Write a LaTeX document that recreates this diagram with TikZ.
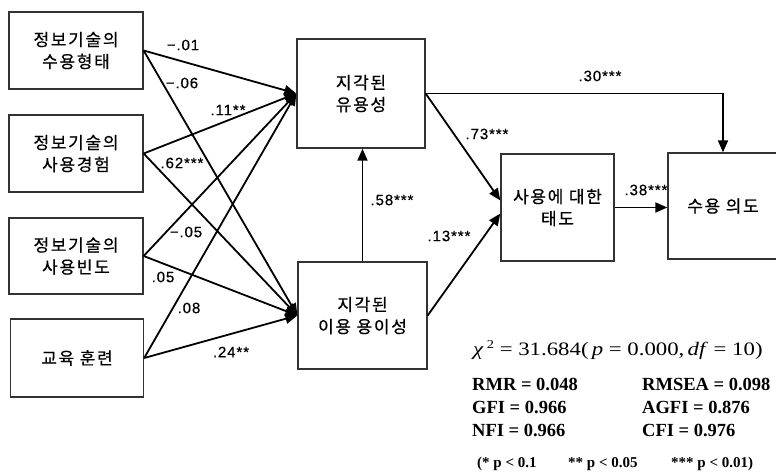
\documentclass[tikz,border=0pt]{standalone}
\usepackage{fontspec}
\setmainfont{Liberation Serif}
\newfontfamily\kr[LetterSpace=10,FakeBold=0.6]{Noto Sans CJK KR}
\newfontfamily\lab[LetterSpace=6,FakeBold=0.5]{Liberation Sans}
\newfontfamily\widese[FakeStretch=1.2]{Liberation Serif}
\usetikzlibrary{arrows.meta}
\begin{document}
\begin{tikzpicture}[x=1pt,y=-1pt,
  box/.style={draw=black!80, line width=1.3pt, fill=white, align=center,
    font=\kr\fontsize{17}{22}\selectfont, inner sep=0pt},
  pth/.style={line width=1.8pt, -{Triangle[length=12pt,width=10pt]}},
  coef/.style={font=\lab\fontsize{15}{15}\selectfont, inner sep=0pt},
  stat/.style={font=\bfseries\fontsize{18.5}{18.5}\selectfont, anchor=base west, inner sep=0pt},
  note/.style={font=\bfseries\fontsize{15}{15}\selectfont, anchor=base west, inner sep=0pt}]
\useasboundingbox (0,0) rectangle (776,472);
\fill[white] (0,0) rectangle (776,472);
% boxes
\node[box, minimum width=134pt, minimum height=77pt] (a1) at (76,50.5) {정보기술의\\수용형태};
\node[box, minimum width=134pt, minimum height=77pt] (a2) at (76,153.5) {정보기술의\\사용경험};
\node[box, minimum width=134pt, minimum height=76pt] (a3) at (76,256) {정보기술의\\사용빈도};
\node[box, minimum width=133pt, minimum height=78pt] (a4) at (77,358) {교육 훈련};
\node[box, minimum width=128pt, minimum height=109pt] (pu) at (361,93.5) {지각된\\유용성};
\node[box, minimum width=129pt, minimum height=107pt] (peou) at (362.5,315.5) {지각된\\이용 용이성};
\node[box, minimum width=113pt, minimum height=107pt] (att) at (557.5,207.5) {사용에 대한\\태도};
\node[box, minimum width=110pt, minimum height=106pt] (int) at (723,206) {수용 의도};
% paths from exogenous variables
\draw[pth] (a1.east) -- (pu.west);
\draw[pth] (a1.east) -- (peou.west);
\draw[pth] (a2.east) -- (pu.west);
\draw[pth] (a2.east) -- (peou.west);
\draw[pth] (a3.east) -- (pu.west);
\draw[pth] (a3.east) -- (peou.west);
\draw[pth] (a4.east) -- (pu.west);
\draw[pth] (a4.east) -- (peou.west);
% structural paths
\draw[pth] (peou.north) -- (peou.north |- pu.south);
\draw[pth] (pu.east) -- ([yshift=7pt]att.west);
\draw[pth] (peou.east) -- ([yshift=-6pt]att.west);
\draw[pth] (pu.east) -| (int.north);
\draw[pth] (att.east) -- (att.east -| int.west);
% coefficients
\node[coef] (c1) at (183,45) {−.01};
\node[coef] (c2) at (182,83) {−.06};
\node[coef] (c3) at (228,110) {.11**};
\node[coef] (c4) at (182,163) {.62***};
\node[coef] (c5) at (186,232) {−.05};
\node[coef] (c6) at (163,277) {.05};
\node[coef] (c7) at (189,308) {.08};
\node[coef] (c8) at (231,352) {.24**};
\node[coef] (c9) at (487,134) {.73***};
\node[coef] (c10) at (392,200) {.58***};
\node[coef] (c11) at (449,236) {.13***};
\node[coef] (c12) at (600,76) {.30***};
\node[coef] (c13) at (646,190) {.38***};
% fit statistics
\node[stat, font=\widese\fontsize{19}{19}\selectfont] (chi) at (473,355)
  {\textit{χ}\,\raisebox{7pt}{\fontsize{12}{12}\selectfont 2} = 31.684(\,\textit{p} = 0.000,\,\textit{df} = 10)};
\node[stat] (rmr) at (472,390) {RMR = 0.048};
\node[stat] (gfi) at (472,413) {GFI = 0.966};
\node[stat] (nfi) at (472,436) {NFI = 0.966};
\node[stat] (rmsea) at (642,390) {RMSEA = 0.098};
\node[stat] (agfi) at (642,413) {AGFI = 0.876};
\node[stat] (cfi) at (642,436) {CFI = 0.976};
\node[note] (n1) at (477,467) {(* p < 0.1};
\node[note] (n2) at (568,467) {** p < 0.05};
\node[note] (n3) at (671,467) {*** p < 0.01)};
\end{tikzpicture}
\end{document}
